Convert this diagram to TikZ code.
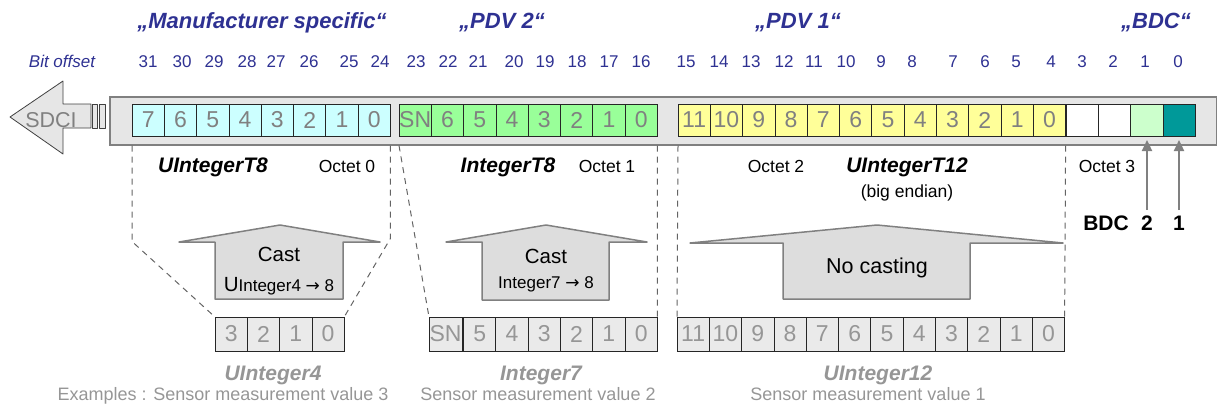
\documentclass[tikz,border=0pt]{standalone}
\usepackage{fontspec}
\setmainfont{Liberation Sans}
\newfontfamily\arrowfont{DejaVu Sans}
\usetikzlibrary{arrows.meta}
\definecolor{titleblue}{RGB}{46,49,146}
\definecolor{framefill}{RGB}{230,230,230}
\definecolor{framedraw}{RGB}{128,128,128}
\definecolor{cyancell}{RGB}{204,255,255}
\definecolor{greencell}{RGB}{153,255,153}
\definecolor{yellowcell}{RGB}{255,255,153}
\definecolor{bdclight}{RGB}{204,255,204}
\definecolor{bdcteal}{RGB}{0,153,153}
\definecolor{celltext}{RGB}{128,128,128}
\definecolor{lowfill}{RGB}{234,234,234}
\definecolor{lowtext}{RGB}{150,150,150}
\definecolor{castfill}{RGB}{221,221,221}
\definecolor{guidegray}{RGB}{100,100,100}
\tikzstyle{fieldname} = [font=\fontsize{22}{26}\selectfont\bfseries\itshape, text=titleblue, anchor=base]
\tikzstyle{bitnum} = [font=\fontsize{17}{20}\selectfont, text=titleblue, anchor=base]
\tikzstyle{framebox} = [draw=framedraw, fill=framefill, line width=1.5pt, inner sep=0pt, anchor=north west]
\tikzstyle{bitcell} = [draw=black!85, line width=0.8pt, minimum width=32.3pt, minimum height=32pt, inner sep=0pt, outer sep=0pt, anchor=west, text=celltext, font=\fontsize{23}{26}\selectfont]
\tikzstyle{lowcell} = [bitcell, fill=lowfill, text=lowtext, minimum height=34pt]
\tikzstyle{groupline} = [draw=black!85, line width=1pt]
\tikzstyle{typename} = [font=\fontsize{21}{25}\selectfont\bfseries\itshape, anchor=base]
\tikzstyle{octetlabel} = [font=\fontsize{17.5}{21}\selectfont, anchor=base]
\tikzstyle{castarrow} = [draw=framedraw, fill=castfill, line width=1.5pt, line join=round]
\tikzstyle{casttext} = [font=\fontsize{20.5}{24}\selectfont, anchor=base]
\tikzstyle{castsmall} = [font=\fontsize{17}{20}\selectfont, anchor=base]
\tikzstyle{guide} = [draw=guidegray, line width=1pt, dash pattern=on 6pt off 5pt]
\tikzstyle{bdclabel} = [font=\fontsize{21}{25}\selectfont\bfseries, anchor=base]
\tikzstyle{bdcarrow} = [draw=framedraw, line width=2.2pt, -{Triangle[width=10pt,length=11pt]}, shorten >=4pt, shorten <=2pt]
\tikzstyle{sample} = [font=\fontsize{18}{22}\selectfont, text=lowtext, anchor=base]
\tikzstyle{sampletype} = [font=\fontsize{21}{25}\selectfont\bfseries\itshape, text=lowtext, anchor=base]
\tikzstyle{sdciarrow} = [draw=black!75, fill=framefill, line width=0.8pt, line join=round]

\begin{document}
\begin{tikzpicture}[x=1pt, y=-1pt]
        \useasboundingbox (0,0) rectangle (1217,407);

        % Field names
        \node (mfrname) [fieldname] at (262,28) {„Manufacturer specific“};
        \node (pdvbname) [fieldname] at (502,28) {„PDV 2“};
        \node (pdvaname) [fieldname] at (798,28) {„PDV 1“};
        \node (bdcfield) [fieldname] at (1156,28) {„BDC“};

        % Bit offsets
        \node (bitoffset) [bitnum, font=\fontsize{17}{20}\selectfont\itshape] at (62,67) {Bit offset};
        \foreach \x/\b in {148/31,182/30,214/29,247/28,276/27,309/26,349/25,380/24,416/23,448/22,478/21,514/20,545/19,577/18,609/17,641/16,686/15,719/14,751/13,784/12,814/11,846/10,881/9,912/8,953/7,985/6,1016/5,1051/4,1082/3,1113/2,1145/1,1178/0}
            \node (bit\b) [bitnum] at (\x,67) {\b};

        % SDCI arrow
        \draw [sdciarrow] (10,117) -- (63,81) -- (63,104) -- (91,104) -- (91,128) -- (63,128) -- (63,154) -- cycle;
        \draw [sdciarrow] (92,104) rectangle (97,128);
        \draw [sdciarrow] (99,104) rectangle (105,128);
        \node (sdci) [font=\fontsize{21.5}{25}\selectfont, text=celltext, anchor=base] at (51,127) {SDCI};

        % Process data frame
        \node (frame) [framebox, minimum width=1107pt, minimum height=48pt] at (109,96) {};
        \foreach \t [count=\i from 0] in {7,6,5,4,3,2,1,0}
            \node (mfr\i) [bitcell, fill=cyancell] at (132+\i*32.3,120) {\t};
        \foreach \t [count=\i from 0] in {SN,6,5,4,3,2,1,0}
            \node (pdvb\i) [bitcell, fill=greencell] at (399+\i*32.3,120) {\t};
        \foreach \t [count=\i from 0] in {11,10,9,8,7,6,5,4,3,2,1,0}
            \node (pdva\i) [bitcell, fill=yellowcell] at (678+\i*32.3,120) {\t};
        \foreach \c [count=\i from 0] in {white,white,bdclight,bdcteal}
            \node (bdc\i) [bitcell, fill=\c] at (1066+\i*32.3,120) {};

        % Data types and octets
        \node (typet8u) [typename] at (213,172) {UIntegerT8};
        \node (octet0) [octetlabel] at (347,172) {Octet 0};
        \node (typet8) [typename] at (508,172) {IntegerT8};
        \node (octet1) [octetlabel] at (607,172) {Octet 1};
        \node (octet2) [octetlabel] at (776,172) {Octet 2};
        \node (typet12u) [typename] at (907,172) {UIntegerT12};
        \node (bigendian) [octetlabel] at (907,197) {(big endian)};
        \node (octet3) [octetlabel] at (1107,172) {Octet 3};

        % BDC markers
        \node (bdcname) [bdclabel] at (1106,230) {BDC};
        \node (bdctwo) [bdclabel] at (1147,230) {2};
        \node (bdcone) [bdclabel] at (1179,230) {1};
        \draw [bdcarrow] (bdctwo.north) -- (bdctwo.north |- bdc2.south);
        \draw [bdcarrow] (bdcone.north) -- (bdcone.north |- bdc3.south);

        % Cast arrows
        \draw [castarrow] (280,225) -- (380,242) -- (343,242) -- (343,299) -- (215,299) -- (215,242) -- (179,242) -- cycle;
        \node (castu) [casttext] at (279,261) {Cast};
        \node (castuint) [castsmall] at (279,291) {{\fontsize{20.5}{24}\selectfont U}Integer4 {\arrowfont →} 8};
        \draw [castarrow] (546,225) -- (647,242) -- (609,242) -- (609,300) -- (482,300) -- (482,242) -- (446,242) -- cycle;
        \node (casti) [casttext] at (546,263) {Cast};
        \node (castint) [castsmall] at (546,288) {Integer7 {\arrowfont →} 8};
        \draw [castarrow] (877,225) -- (1063,243) -- (970,243) -- (970,299) -- (783,299) -- (783,243) -- (690,243) -- cycle;
        \node (nocast) [casttext, font=\fontsize{21.5}{25}\selectfont] at (877,273) {No casting};

        % Sensor values
        \foreach \t [count=\i from 0] in {3,2,1,0}
            \node (ufour\i) [lowcell] at (215+\i*32.3,334) {\t};
        \node (isn) [lowcell, minimum width=33pt] at (429,334) {SN};
        \foreach \t [count=\i from 0] in {5,4,3,2,1,0}
            \node (iseven\i) [lowcell] at (463.5+\i*32.3,334) {\t};
        \foreach \t [count=\i from 0] in {11,10,9,8,7,6,5,4,3,2,1,0}
            \node (utwelve\i) [lowcell] at (677+\i*32.3,334) {\t};
        \draw [groupline] (iseven0.north west) rectangle (iseven5.south east);
        \draw [groupline] (utwelve6.north west) rectangle (utwelve11.south east);

        % Guide lines
        \draw [guide] (mfr0.south west |- frame.south) -- ++(0,96) -- (ufour0.north west);
        \draw [guide] (mfr7.south east |- frame.south) -- ++(0,93) -- (ufour3.north east);
        \draw [guide] (pdvb0.south west |- frame.south) -- (isn.north west);
        \draw [guide] (pdvb7.south east |- frame.south) -- (iseven5.north east);
        \draw [guide] (pdva0.south west |- frame.south) -- (utwelve0.north west);
        \draw [guide] (pdva11.south east |- frame.south) -- (utwelve11.north east);

        % Sample labels
        \node (ufourname) [sampletype] at (273,380) {UInteger4};
        \node (ufourtext) [sample] at (223,400) {Examples : Sensor measurement value 3};
        \node (isevenname) [sampletype] at (541,380) {Integer7};
        \node (iseventext) [sample] at (538,400) {Sensor measurement value 2};
        \node (utwelvename) [sampletype] at (878,380) {UInteger12};
        \node (utwelvetext) [sample] at (868,400) {Sensor measurement value 1};

\end{tikzpicture}
\end{document}
